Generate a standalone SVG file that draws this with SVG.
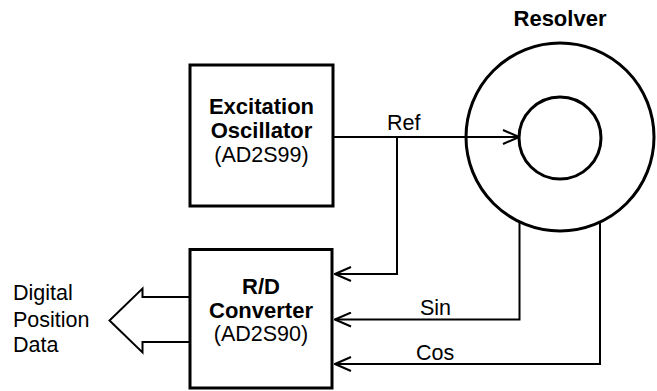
<svg xmlns="http://www.w3.org/2000/svg" width="657" height="391" viewBox="0 0 657 391">
<defs>
<style>
.box{fill:#fff;stroke:#000;stroke-width:3}
.ring{fill:none;stroke:#000;stroke-width:3}
.wire{fill:none;stroke:#000;stroke-width:2}
.b{font-family:"Liberation Sans",Arial,sans-serif;font-weight:bold;font-size:22px;fill:#000}
.r{font-family:"Liberation Sans",Arial,sans-serif;font-size:21.5px;fill:#000}
</style>
<marker id="ah" viewBox="0 0 18 16" refX="17" refY="8" markerWidth="18" markerHeight="16" markerUnits="userSpaceOnUse" orient="auto">
<path d="M1,1 L17,8 L1,15" fill="none" stroke="#000" stroke-width="2"/>
</marker>
</defs>
<rect width="657" height="391" fill="#fff"/>
<g id="connectors">
<path class="wire" d="M333,137 H519" marker-end="url(#ah)"/>
<path class="wire" d="M397,137 V274 H335" marker-end="url(#ah)"/>
<path class="wire" d="M519.5,222 V319.5 H335" marker-end="url(#ah)"/>
<path class="wire" d="M600,222 V364 H335" marker-end="url(#ah)"/>
<path class="wire" d="M190,297 H142.5 V288.5 L109.5,320.5 L142.5,352.5 V342 H190"/>
<text class="r" x="387" y="130">Ref</text>
<text class="r" x="420" y="315">Sin</text>
<text class="r" x="416" y="360">Cos</text>
</g>
<g id="excitation-oscillator">
<rect class="box" x="190" y="65" width="143" height="141"/>
<text class="b" x="261.5" y="113.5" text-anchor="middle">Excitation</text>
<text class="b" x="261.5" y="138" text-anchor="middle">Oscillator</text>
<text class="r" x="261.5" y="162" text-anchor="middle">(AD2S99)</text>
</g>
<g id="rd-converter">
<rect class="box" x="190" y="249.5" width="142" height="138.5"/>
<text class="b" x="261" y="294" text-anchor="middle">R/D</text>
<text class="b" x="261" y="317.5" text-anchor="middle">Converter</text>
<text class="r" x="261" y="341" text-anchor="middle">(AD2S90)</text>
</g>
<g id="resolver">
<text class="b" x="560" y="26" text-anchor="middle">Resolver</text>
<circle class="ring" cx="560" cy="137" r="94"/>
<circle class="ring" cx="560" cy="138" r="41"/>
</g>
<g id="digital-output">
<text class="r" x="13" y="300">Digital</text>
<text class="r" x="13" y="326.5">Position</text>
<text class="r" x="13" y="351.5">Data</text>
</g>
</svg>
